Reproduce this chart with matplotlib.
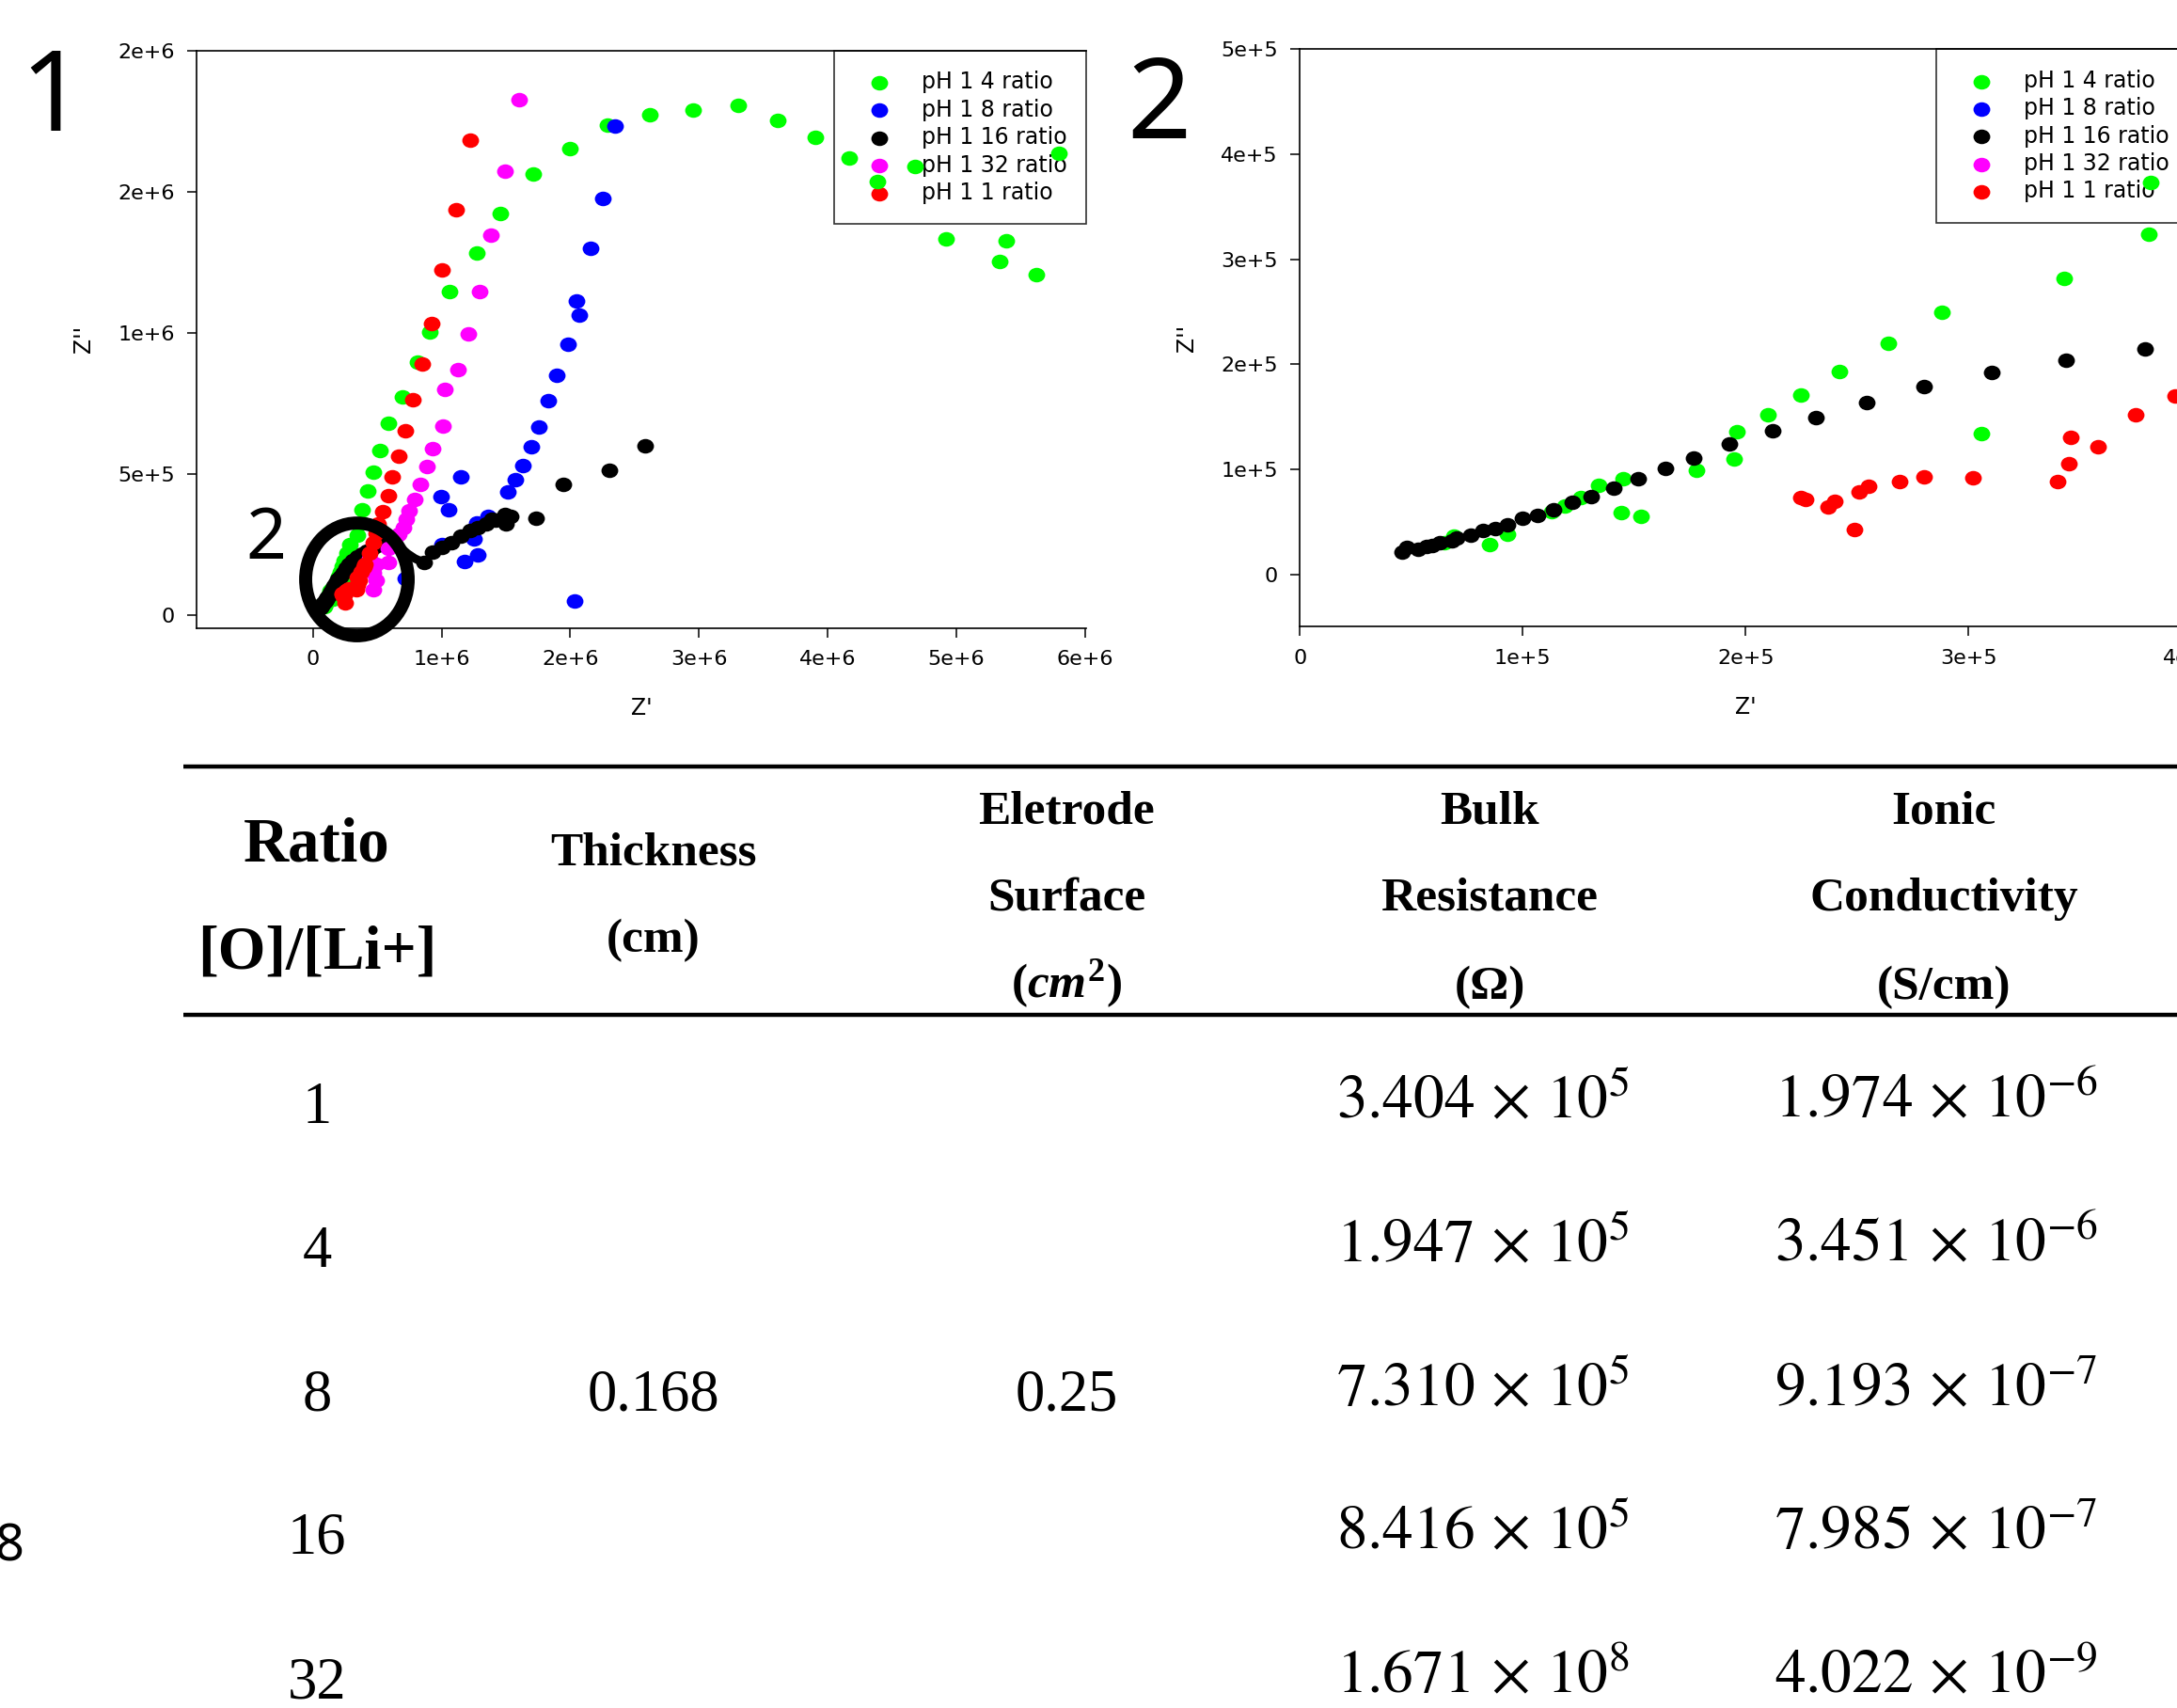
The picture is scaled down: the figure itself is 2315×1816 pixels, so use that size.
import matplotlib.pyplot as plt
import numpy as np
from matplotlib.patches import Ellipse, PathPatch
from matplotlib.path import Path
from matplotlib.ticker import FixedLocator, FuncFormatter

plt.rcParams['font.family'] = 'DejaVu Sans'
plt.rcParams['mathtext.fontset'] = 'custom'
plt.rcParams['mathtext.rm'] = 'Liberation Serif:bold'
plt.rcParams['mathtext.it'] = 'Liberation Serif:bold:italic'
plt.rcParams['mathtext.bf'] = 'Liberation Serif:bold'

W, H = 2315, 1816  # output size in px

labels = ['pH 1 4 ratio', 'pH 1 8 ratio', 'pH 1 16 ratio', 'pH 1 32 ratio', 'pH 1 1 ratio']
colors = ['#00ff00', '#0000ff', '#000000', '#ff00ff', '#ff0000']

# impedance points, Z' and Z'' in units of 1e5 ohm
green_zr = [0.65, 0.69, 0.85, 0.93, 1.13, 1.19, 1.26, 1.34, 1.44, 1.45, 1.53, 1.78, 1.95, 1.96, 2.10, 2.25,
            2.42, 2.64, 2.88, 3.06, 3.43, 3.81, 3.82, 4.22, 4.65, 5.19, 5.89, 6.97, 8.11, 9.08, 10.59, 12.70,
            14.54, 17.14, 19.95, 22.86, 26.16, 29.51, 33.08, 36.11, 39.03, 41.68, 43.84, 46.76, 49.24, 53.35,
            53.89, 56.22, 57.95]
green_zi = [0.30, 0.36, 0.28, 0.38, 0.60, 0.65, 0.73, 0.85, 0.59, 0.91, 0.55, 0.99, 1.10, 1.36, 1.52, 1.71,
            1.93, 2.20, 2.50, 1.34, 2.82, 3.24, 3.73, 4.40, 5.07, 5.82, 6.78, 7.73, 8.95, 10.03, 11.47, 12.83,
            14.25, 15.63, 16.53, 17.37, 17.75, 17.90, 18.07, 17.53, 16.95, 16.22, 15.37, 15.92, 13.33, 12.52,
            13.28, 12.07, 16.37]

blue_zr = [7.14, 9.95, 10.02, 10.50, 11.50, 11.78, 12.50, 12.76, 12.81, 13.58, 15.14, 15.70, 16.32, 16.97,
           17.57, 18.27, 18.97, 19.84, 20.30, 20.49, 20.70, 21.57, 22.54, 23.46]
blue_zi = [1.30, 4.20, 2.48, 3.72, 4.90, 1.90, 2.70, 3.25, 2.12, 3.48, 4.35, 4.80, 5.28, 5.95, 6.67, 7.58,
           8.50, 9.60, 0.48, 11.12, 10.62, 13.00, 14.78, 17.33]

black_zr = [0.456, 0.478, 0.53, 0.566, 0.593, 0.628, 0.683, 0.702, 0.765, 0.82, 0.874, 0.929, 1.0, 1.066,
            1.139, 1.221, 1.306, 1.41, 1.516, 1.64, 1.768, 1.929, 2.12, 2.314, 2.544, 2.803, 3.107, 3.437,
            3.795, 4.2, 4.6, 5.0, 5.4, 8.6, 9.3, 10.0, 10.75, 11.48, 12.2, 12.82, 13.43, 13.9, 14.16, 14.9,
            15.0, 15.38, 17.33, 19.45, 23.03, 25.8]
black_zi = [0.213, 0.255, 0.24, 0.264, 0.279, 0.30, 0.324, 0.345, 0.375, 0.414, 0.435, 0.474, 0.535, 0.565,
            0.616, 0.685, 0.745, 0.82, 0.91, 1.01, 1.11, 1.24, 1.366, 1.49, 1.64, 1.787, 1.925, 2.04, 2.15,
            2.25, 2.36, 2.47, 2.57, 1.84, 2.22, 2.40, 2.56, 2.78, 3.00, 3.10, 3.23, 3.38, 3.34, 3.56, 3.22,
            3.50, 3.42, 4.63, 5.11, 6.00]

magenta_zr = [4.66, 4.90, 4.66, 4.40, 4.90, 5.88, 5.82, 6.37, 6.66, 7.00, 7.22, 7.46, 7.89, 8.32, 8.86,
              9.30, 10.10, 10.27, 11.30, 12.05, 12.97, 13.84, 14.92, 16.00]
magenta_zi = [0.90, 1.23, 1.47, 2.00, 1.80, 1.86, 2.37, 2.73, 2.87, 3.10, 3.40, 3.68, 4.10, 4.63, 5.25,
              5.90, 6.68, 7.98, 8.70, 9.98, 11.47, 13.48, 15.75, 18.28]

red_zr = [2.25, 2.27, 2.37, 2.40, 2.49, 2.51, 2.55, 2.69, 2.80, 3.02, 3.40, 3.45, 3.46, 3.58, 3.75, 3.93,
          4.05, 4.40, 4.66, 4.90, 5.08, 5.41, 5.84, 6.16, 6.65, 7.19, 7.78, 8.49, 9.19, 10.05, 11.14, 12.22]
red_zi = [0.735, 0.71, 0.646, 0.70, 0.423, 0.781, 0.841, 0.886, 0.931, 0.922, 0.886, 1.054, 1.309, 1.216,
          1.517, 1.697, 1.79, 2.18, 2.56, 2.90, 3.23, 3.65, 4.22, 4.88, 5.63, 6.53, 7.63, 8.90, 10.32, 12.23,
          14.38, 16.85]

series = [(green_zr, green_zi), (blue_zr, blue_zi), (black_zr, black_zi),
          (magenta_zr, magenta_zi), (red_zr, red_zi)]

# table values
ratios = ['1', '4', '8', '16', '32']
thickness = '0.168'
surface = '0.25'
res_mant = [3.404, 1.947, 7.310, 8.416, 1.671]
res_exp = [5, 5, 5, 5, 8]
cond_mant = [1.974, 3.451, 9.193, 7.985, 4.022]
cond_exp = [-6, -6, -7, -7, -9]

left_xticks = [0, 1e6, 2e6, 3e6, 4e6, 5e6, 6e6]
left_yticks = [0, 5e5, 1e6, 1.5e6, 2e6]
right_xticks = [0, 1e5, 2e5, 3e5, 4e5]
right_yticks = [0, 1e5, 2e5, 3e5, 4e5, 5e5]


def sci(v, pos):
    if v == 0:
        return '0'
    return f'{v:.0e}'.replace('e+0', 'e+')


# slightly wide dot, like the stretched original
circ = Path.unit_circle()
dot = Path(circ.vertices * [1.15, 1.0], circ.codes)

fig = plt.figure(figsize=(W / 100, H / 100), dpi=100)


def nyquist(rect, xlim, ylim, xticks, yticks, leg_x0):
    ax = fig.add_axes(rect)
    for (zr, zi), c, lab in zip(series, colors, labels):
        ax.scatter(np.array(zr) * 1e5, np.array(zi) * 1e5, s=165, marker=dot, color=c,
                   linewidths=0, label=lab, zorder=3)
    ax.set_xlim(*xlim)
    ax.set_ylim(*ylim)
    ax.xaxis.set_major_locator(FixedLocator(xticks))
    ax.yaxis.set_major_locator(FixedLocator(yticks))
    ax.xaxis.set_major_formatter(FuncFormatter(sci))
    ax.yaxis.set_major_formatter(FuncFormatter(sci))
    ax.spines['right'].set_visible(False)
    for s in ['left', 'bottom', 'top']:
        ax.spines[s].set_linewidth(1.2)
    ax.tick_params(direction='out', length=7, width=1.1, pad=10, labelsize=16)
    ax.set_xlabel("Z'", fontsize=17)
    ax.set_ylabel("Z''", fontsize=17)
    ax.xaxis.set_label_coords(0.5, -0.12)
    ax.yaxis.set_label_coords(-0.115, 0.5)
    leg = ax.legend(loc='upper right', bbox_to_anchor=(leg_x0, 0, 1 - leg_x0, 1), mode='expand',
                    borderaxespad=0, fontsize=17, frameon=True, fancybox=False, scatterpoints=1,
                    borderpad=0.9, labelspacing=0.23, handlelength=2.3, handletextpad=0.75)
    leg.get_frame().set_edgecolor('black')
    leg.get_frame().set_linewidth(1.2)
    leg.set_zorder(1)
    return ax


ax1 = nyquist([0.09041, 0.63243, 0.40864, 0.33783], (-0.9035e6, 6.012e6), (-4.67e4, 2.001e6),
              left_xticks, left_yticks, 0.716)
ax2 = nyquist([0.59719, 0.63299, 0.40929, 0.33811], (0, 4.0e5), (-5.0e4, 5.0e5),
              right_xticks, right_yticks, 0.714)

# magnifier ring around the low-impedance region of panel 1
ax1.add_patch(Ellipse((0.341e6, 0.125e6), 0.797e6, 0.40e6, fill=False, lw=10, ec='black',
                      clip_on=False, zorder=5))
handle = Path([(0.645e6, 0.254e6), (0.768e6, 0.195e6), (0.87e6, 0.185e6)],
              [Path.MOVETO, Path.CURVE3, Path.CURVE3])
ax1.add_patch(PathPatch(handle, fill=False, lw=6.5, ec='black', capstyle='round', zorder=5))


def ftext(x, y, s, **kw):
    fig.text(x / W, 1 - y / H, s, **kw)


ftext(55, 139, '1', fontsize=86, family='Noto Sans', ha='center', va='baseline')
ftext(1232, 147, '2', fontsize=86, family='Noto Sans', ha='center', va='baseline')
ftext(283, 594, '2', fontsize=54, family='Noto Sans', ha='center', va='baseline')
ftext(10, 1660, '8', fontsize=39, family='Noto Sans', ha='center', va='baseline')

# table drawn in pixel coordinates
tab = fig.add_axes([0, 0, 1, 1], zorder=-1)
tab.set_xlim(0, W)
tab.set_ylim(H, 0)
tab.axis('off')
tab.hlines([815, 1079], 195, W, color='black', lw=3.2)

serif = 'Liberation Serif'
head_x = [337, 695, 1134, 1584, 2067]
val_x = [337, 695, 1134, 1577, 2059]
hb = dict(family=serif, weight='bold', ha='center', va='baseline')
tab.text(head_x[0], 915, 'Ratio', fontsize=48, **hb)
tab.text(head_x[0], 1029, '[O]/[Li+]', fontsize=47, **hb)
tab.text(head_x[1], 920, 'Thickness', fontsize=37, **hb)
tab.text(head_x[1], 1012, '(cm)', fontsize=37, **hb)
tab.text(head_x[2], 875, 'Eletrode', fontsize=37, **hb)
tab.text(head_x[2], 968, 'Surface', fontsize=37, **hb)
tab.text(head_x[2], 1060, r'$(cm^{2})$', fontsize=37, **hb)
tab.text(head_x[3], 875, 'Bulk', fontsize=37, **hb)
tab.text(head_x[3], 968, 'Resistance', fontsize=37, **hb)
tab.text(head_x[3], 1062, '(Ω)', fontsize=37, **hb)
tab.text(head_x[4], 875, 'Ionic', fontsize=37, **hb)
tab.text(head_x[4], 968, 'Conductivity', fontsize=37, **hb)
tab.text(head_x[4], 1062, '(S/cm)', fontsize=37, **hb)

row_y = [1194, 1347, 1500, 1652, 1805]
for i, r in enumerate(ratios):
    tab.text(val_x[0], row_y[i], r, fontsize=45, family=serif, ha='center', va='baseline')
    tab.text(val_x[3], row_y[i] - 6, f'${res_mant[i]:.3f}\\,\\times\\,10^{{{res_exp[i]}}}$', fontsize=47,
             math_fontfamily='stix', ha='center', va='baseline')
    tab.text(val_x[4], row_y[i] - 6, f'${cond_mant[i]:.3f}\\,\\times\\,10^{{{cond_exp[i]}}}$', fontsize=47,
             math_fontfamily='stix', ha='center', va='baseline')
tab.text(val_x[1], row_y[2], thickness, fontsize=45, family=serif, ha='center', va='baseline')
tab.text(val_x[2], row_y[2], surface, fontsize=45, family=serif, ha='center', va='baseline')

fig.savefig('out.png', dpi=100)
